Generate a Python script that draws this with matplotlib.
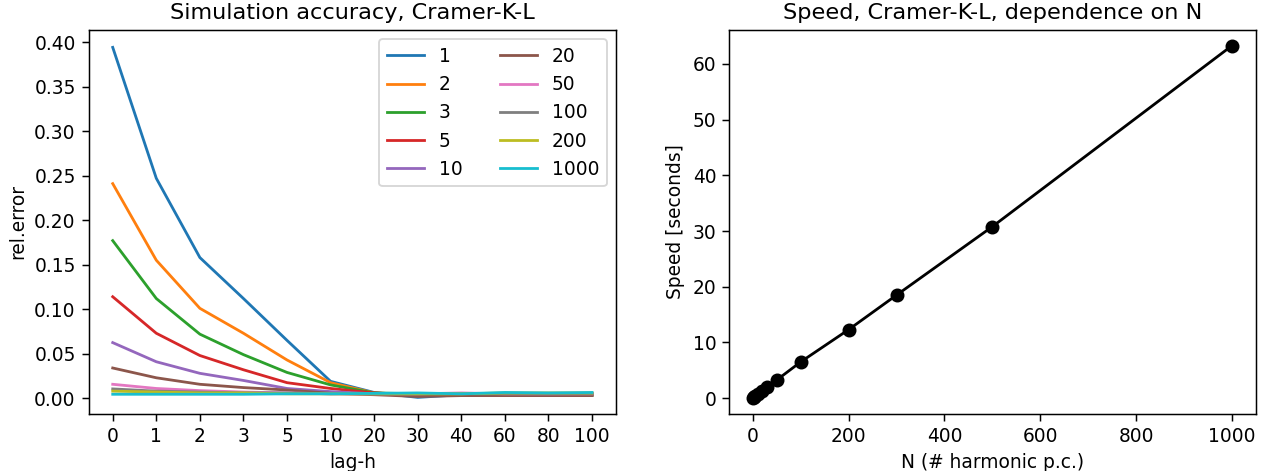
import matplotlib
matplotlib.use("Agg")
import matplotlib.pyplot as plt

lags = ["0", "1", "2", "3", "5", "10", "20", "30", "40", "60", "80", "100"]
series_names = ["1", "2", "3", "5", "10", "20", "50", "100", "200", "1000"]

err_1 = [0.394, 0.247, 0.158, 0.112, 0.065, 0.019, 0.0065, 0.001, 0.004, 0.0055, 0.004, 0.005]
err_2 = [0.241, 0.155, 0.101, 0.073, 0.043, 0.0175, 0.006, 0.004, 0.005, 0.005, 0.005, 0.005]
err_3 = [0.177, 0.112, 0.072, 0.049, 0.029, 0.015, 0.006, 0.005, 0.004, 0.004, 0.003, 0.003]
err_5 = [0.114, 0.073, 0.048, 0.032, 0.0175, 0.011, 0.006, 0.004, 0.005, 0.004, 0.003, 0.004]
err_10 = [0.0625, 0.041, 0.028, 0.020, 0.011, 0.0075, 0.005, 0.005, 0.004, 0.004, 0.004, 0.005]
err_20 = [0.034, 0.023, 0.0157, 0.012, 0.0093, 0.0056, 0.004, 0.002, 0.003, 0.003, 0.003, 0.003]
err_50 = [0.0157, 0.011, 0.0086, 0.007, 0.006, 0.005, 0.005, 0.005, 0.006, 0.005, 0.005, 0.005]
err_100 = [0.0105, 0.008, 0.007, 0.006, 0.006, 0.005, 0.005, 0.005, 0.005, 0.005, 0.005, 0.005]
err_200 = [0.008, 0.007, 0.006, 0.006, 0.005, 0.005, 0.005, 0.005, 0.005, 0.006, 0.006, 0.006]
err_1000 = [0.0045, 0.0045, 0.0045, 0.0045, 0.005, 0.005, 0.0055, 0.006, 0.005, 0.0065, 0.006, 0.0065]
all_errors = [err_1, err_2, err_3, err_5, err_10, err_20, err_50, err_100, err_200, err_1000]

n_harmonics = [1, 2, 3, 5, 10, 20, 30, 50, 100, 200, 300, 500, 1000]
speed_sec = [0.1, 0.17, 0.23, 0.35, 0.66, 1.3, 1.95, 3.25, 6.5, 12.3, 18.5, 30.8, 63.3]

dpi = 134
fig = plt.figure(figsize=(1268 / dpi, 471 / dpi), dpi=dpi)
ax1 = fig.add_axes([0.0700, 0.1217, 0.4158, 0.8146])
ax2 = fig.add_axes([0.5752, 0.1217, 0.4153, 0.8146])

xs = list(range(len(lags)))
for name, vals in zip(series_names, all_errors):
    ax1.plot(xs, vals, label=name)
ax1.set_xticks(xs)
ax1.set_xticklabels(lags)
ax1.set_ylim(-0.0173, 0.4135)
ax1.set_yticks([0.0, 0.05, 0.10, 0.15, 0.20, 0.25, 0.30, 0.35, 0.40])
ax1.set_yticklabels(["0.00", "0.05", "0.10", "0.15", "0.20", "0.25", "0.30", "0.35", "0.40"])
ax1.set_xlabel("lag-h")
ax1.set_ylabel("rel.error")
ax1.set_title("Simulation accuracy, Cramer-K-L")
ax1.legend(ncol=2, loc="upper right")

ax2.plot(n_harmonics, speed_sec, color="black", marker="o", markersize=6.5)
ax2.set_ylim(-2.8, 66.1)
ax2.set_xlabel("N (# harmonic p.c.)")
ax2.set_ylabel("Speed [seconds]")
ax2.set_title("Speed, Cramer-K-L, dependence on N")

fig.savefig("out.png", dpi=dpi)
